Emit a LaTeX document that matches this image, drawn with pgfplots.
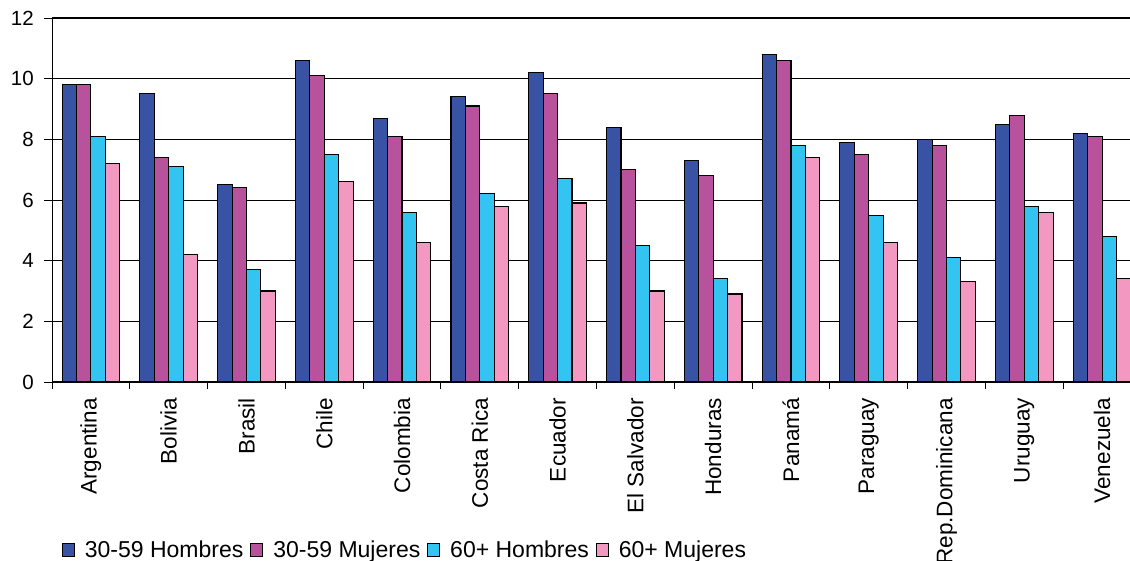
\documentclass[border=0pt]{standalone}
\usepackage{pgfplots}
\pgfplotsset{compat=1.18}
\usepackage{fontspec}
\setmainfont{Liberation Sans}
\definecolor{cA}{RGB}{57,83,164}
\definecolor{cB}{RGB}{184,82,156}
\definecolor{cC}{RGB}{51,196,242}
\definecolor{cD}{RGB}{243,153,193}
\begin{document}
\begin{tikzpicture}
\useasboundingbox (0,0) rectangle (1130pt,561pt);
\clip (0,0) rectangle (1130pt,561pt);
\begin{axis}[
  at={(52pt,179pt)}, anchor=south west,
  scale only axis, width=1089pt, height=364pt,
  xmin=-0.5, xmax=13.5, ymin=0, ymax=12,
  ybar=0pt, bar width=14.4pt,
  ytick={0,2,...,12},
  ymajorgrids, grid style={black, line width=0.9pt},
  axis line style={black, line width=1pt},
  tick pos=left, tick align=outside,
  major tick length=8pt, minor tick length=7pt,
  xtick={0,...,13},
  xticklabels={Argentina,Bolivia,Brasil,Chile,Colombia,Costa Rica,Ecuador,El Salvador,Honduras,Panamá,Paraguay,Rep.Dominicana,Uruguay,Venezuela},
  major x tick style={draw=none},
  minor xtick={-0.5,0.5,...,13.5},
  tick style={black, line width=0.9pt},
  x tick label style={rotate=90, anchor=east, inner sep=0pt, xshift=-8pt, font=\fontsize{22.5}{26}\selectfont},
  y tick label style={inner sep=0pt, xshift=-10pt, font=\fontsize{20.5}{24}\selectfont},
  /pgf/number format/assume math mode=true,
  legend columns=4,
  legend style={at={(axis description cs:0.009,-0.4615)}, anchor=west, draw=none, fill=none, inner sep=0pt,
    font=\fontsize{23}{26}\selectfont,
    /tikz/every odd column/.append style={column sep=10pt},
    /tikz/every even column/.append style={column sep=7pt},
    nodes={inner sep=0pt}},
  legend image code/.code={\draw[#1,draw=black,line width=0.9pt] (0pt,-6.5pt) rectangle (12pt,6.5pt);},
  every axis plot/.append style={draw=black, line width=1.1pt},
]
\addplot[fill=cA] coordinates {(0,9.8) (1,9.5) (2,6.5) (3,10.6) (4,8.7) (5,9.4) (6,10.2) (7,8.4) (8,7.3) (9,10.8) (10,7.9) (11,8.0) (12,8.5) (13,8.2)};
\addplot[fill=cB] coordinates {(0,9.8) (1,7.4) (2,6.4) (3,10.1) (4,8.1) (5,9.1) (6,9.5) (7,7.0) (8,6.8) (9,10.6) (10,7.5) (11,7.8) (12,8.8) (13,8.1)};
\addplot[fill=cC] coordinates {(0,8.1) (1,7.1) (2,3.7) (3,7.5) (4,5.6) (5,6.2) (6,6.7) (7,4.5) (8,3.4) (9,7.8) (10,5.5) (11,4.1) (12,5.8) (13,4.8)};
\addplot[fill=cD] coordinates {(0,7.2) (1,4.2) (2,3.0) (3,6.6) (4,4.6) (5,5.8) (6,5.9) (7,3.0) (8,2.9) (9,7.4) (10,4.6) (11,3.3) (12,5.6) (13,3.4)};
\legend{30-59 Hombres,30-59 Mujeres,60+ Hombres,60+ Mujeres}
\end{axis}
\end{tikzpicture}
\end{document}
